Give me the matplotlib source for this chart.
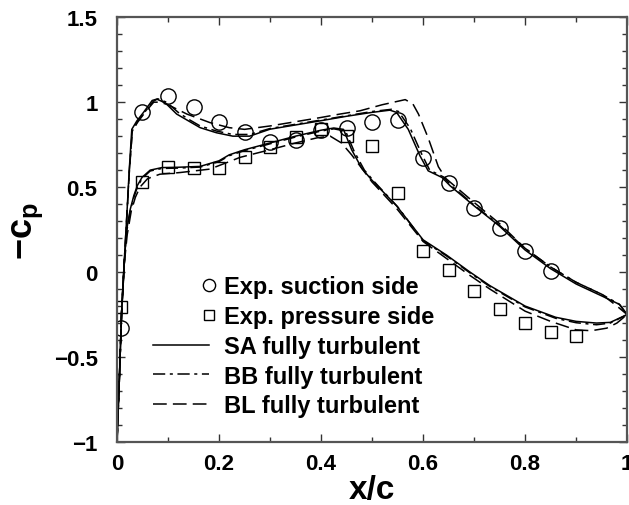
import matplotlib
matplotlib.use("Agg")
import matplotlib.pyplot as plt
from matplotlib.legend_handler import HandlerLine2D
from matplotlib.lines import Line2D
from matplotlib.ticker import MultipleLocator

plt.rcParams["font.family"] = ["Liberation Sans", "DejaVu Sans"]
plt.rcParams["font.weight"] = "bold"
plt.rcParams["mathtext.fontset"] = "custom"
plt.rcParams["mathtext.rm"] = "Liberation Sans:bold"
plt.rcParams["mathtext.bf"] = "Liberation Sans:bold"
plt.rcParams["mathtext.it"] = "Liberation Sans:bold"

#%% Data
# experiments
exp_suc_x = [0.007, 0.05, 0.1, 0.15, 0.2, 0.25, 0.3, 0.35, 0.4, 0.45, 0.5, 0.55,
             0.6, 0.65, 0.7, 0.75, 0.8, 0.85]
exp_suc_y = [-0.33, 0.945, 1.037, 0.969, 0.886, 0.825, 0.763, 0.776, 0.835, 0.847, 0.884, 0.896,
             0.669, 0.522, 0.38, 0.259, 0.122, 0.008]

exp_pre_x = [0.008, 0.05, 0.1, 0.15, 0.2, 0.25, 0.3, 0.35, 0.4, 0.45, 0.5, 0.55,
             0.6, 0.65, 0.7, 0.75, 0.8, 0.85, 0.9]
exp_pre_y = [-0.208, 0.533, 0.616, 0.612, 0.612, 0.68, 0.737, 0.795, 0.841, 0.798, 0.743, 0.463,
             0.125, 0.014, -0.114, -0.218, -0.3, -0.355, -0.378]

# SA
sa_suc_x = [0.0, 0.005, 0.009, 0.014, 0.019, 0.024, 0.029, 0.039, 0.052, 0.069, 0.078, 0.095,
            0.117, 0.14, 0.163, 0.195, 0.227, 0.26, 0.3, 0.35, 0.4, 0.45, 0.5, 0.535, 0.548,
            0.571, 0.594, 0.61, 0.637, 0.653, 0.7, 0.75, 0.8, 0.85, 0.9, 0.95, 0.985, 1.0]
sa_suc_y = [-1.0, -0.6, -0.24, 0.05, 0.32, 0.6, 0.84, 0.89, 0.94, 1.01, 1.018, 0.995,
            0.93, 0.89, 0.85, 0.82, 0.80, 0.80, 0.841, 0.866, 0.891, 0.917, 0.94, 0.953, 0.94,
            0.84, 0.684, 0.596, 0.557, 0.508, 0.39, 0.27, 0.13, 0.02, -0.07, -0.14, -0.19, -0.25]

sa_pre_x = [0.0, 0.005, 0.009, 0.014, 0.019, 0.026, 0.033, 0.04, 0.049, 0.065, 0.088, 0.12,
            0.163, 0.2, 0.22, 0.25, 0.3, 0.35, 0.4, 0.425, 0.444, 0.46, 0.48, 0.5, 0.548,
            0.6, 0.646, 0.692, 0.731, 0.8, 0.86, 0.9, 0.94, 0.967, 1.0]
sa_pre_y = [-1.0, -0.6, -0.24, 0.05, 0.25, 0.37, 0.45, 0.51, 0.557, 0.6, 0.615, 0.617,
            0.622, 0.655, 0.69, 0.72, 0.76, 0.80, 0.835, 0.848, 0.84, 0.72, 0.61, 0.54, 0.39,
            0.19, 0.10, 0.0, -0.08, -0.2, -0.266, -0.29, -0.30, -0.296, -0.25]

# BB
bb_suc_x = [0.0, 0.005, 0.009, 0.014, 0.019, 0.024, 0.03, 0.04, 0.054, 0.071, 0.08, 0.097,
            0.12, 0.14, 0.163, 0.195, 0.227, 0.26, 0.3, 0.35, 0.4, 0.45, 0.5, 0.538, 0.552,
            0.575, 0.598, 0.613, 0.64, 0.655, 0.7, 0.75, 0.8, 0.85, 0.9, 0.95, 0.985, 1.0]
bb_suc_y = [-1.0, -0.6, -0.24, 0.05, 0.32, 0.59, 0.83, 0.885, 0.94, 1.005, 1.02, 1.0,
            0.94, 0.9, 0.86, 0.83, 0.81, 0.81, 0.845, 0.87, 0.895, 0.92, 0.945, 0.958, 0.945,
            0.845, 0.69, 0.6, 0.56, 0.51, 0.395, 0.275, 0.14, 0.03, -0.06, -0.13, -0.19, -0.25]

bb_pre_x = [0.0, 0.005, 0.009, 0.014, 0.019, 0.026, 0.033, 0.04, 0.049, 0.065, 0.088, 0.12,
            0.163, 0.2, 0.22, 0.25, 0.3, 0.35, 0.4, 0.425, 0.448, 0.465, 0.485, 0.505, 0.55,
            0.6, 0.646, 0.692, 0.731, 0.8, 0.86, 0.9, 0.94, 0.967, 1.0]
bb_pre_y = [-1.0, -0.6, -0.24, 0.05, 0.24, 0.36, 0.44, 0.5, 0.55, 0.595, 0.61, 0.612,
            0.618, 0.65, 0.685, 0.715, 0.755, 0.795, 0.83, 0.843, 0.83, 0.71, 0.6, 0.53, 0.385,
            0.185, 0.095, -0.005, -0.085, -0.205, -0.272, -0.298, -0.31, -0.3, -0.25]

# BL
bl_suc_x = [0.0, 0.005, 0.009, 0.014, 0.019, 0.024, 0.03, 0.04, 0.055, 0.072, 0.084, 0.1,
            0.137, 0.182, 0.22, 0.25, 0.3, 0.35, 0.4, 0.437, 0.476, 0.52, 0.565, 0.58, 0.591,
            0.61, 0.63, 0.645, 0.7, 0.75, 0.8, 0.85, 0.9, 0.95, 0.98, 1.0]
bl_suc_y = [-1.0, -0.6, -0.24, 0.02, 0.3, 0.58, 0.83, 0.88, 0.94, 1.0, 1.0, 0.985,
            0.93, 0.88, 0.85, 0.84, 0.86, 0.885, 0.91, 0.93, 0.949, 0.985, 1.015, 0.99, 0.93,
            0.79, 0.62, 0.55, 0.41, 0.285, 0.14, 0.03, -0.06, -0.13, -0.2, -0.25]

bl_pre_x = [0.0, 0.005, 0.009, 0.014, 0.02, 0.028, 0.036, 0.045, 0.06, 0.084, 0.124, 0.182,
            0.22, 0.241, 0.3, 0.35, 0.392, 0.418, 0.44, 0.46, 0.48, 0.5, 0.548, 0.6, 0.646,
            0.692, 0.731, 0.8, 0.85, 0.9, 0.93, 0.96, 0.98, 1.0]
bl_pre_y = [-1.0, -0.6, -0.24, 0.04, 0.22, 0.36, 0.44, 0.5, 0.55, 0.576, 0.586, 0.606,
            0.65, 0.675, 0.72, 0.76, 0.79, 0.80, 0.76, 0.69, 0.61, 0.53, 0.375, 0.18, 0.08,
            -0.02, -0.1, -0.23, -0.29, -0.34, -0.345, -0.33, -0.3, -0.25]


class RightMarkerHandler(HandlerLine2D):
    # put the legend marker at the right end of the handle
    def create_artists(self, legend, orig_handle, xdescent, ydescent, width, height,
                       fontsize, trans):
        artists = super().create_artists(legend, orig_handle, xdescent, ydescent,
                                         width, height, fontsize, trans)
        artists[0].set_markevery([2])
        return artists


#%% Plot
fig = plt.figure(figsize=(6.29, 5.06), dpi=100)
ax = fig.add_axes([0.186, 0.1245, 0.811, 0.8395])

lw = 1.1
ax.plot(exp_suc_x, exp_suc_y, "o", ms=11, mfc="none", mec="black", mew=1.0,
        label="Exp. suction side")
ax.plot(exp_pre_x, exp_pre_y, "s", ms=9, mfc="none", mec="black", mew=1.0,
        label="Exp. pressure side")

ax.plot(sa_suc_x, sa_suc_y, "-", color="black", lw=lw, label="SA fully turbulent")
ax.plot(sa_pre_x, sa_pre_y, "-", color="black", lw=lw)
ax.plot(bb_suc_x, bb_suc_y, color="black", lw=lw, linestyle=(0, (8, 3, 2, 3)),
        label="BB fully turbulent")
ax.plot(bb_pre_x, bb_pre_y, color="black", lw=lw, linestyle=(0, (8, 3, 2, 3)))
ax.plot(bl_suc_x, bl_suc_y, color="black", lw=lw, linestyle=(0, (9, 4)),
        label="BL fully turbulent")
ax.plot(bl_pre_x, bl_pre_y, color="black", lw=lw, linestyle=(0, (9, 4)))

ax.set_xlim(0, 1)
ax.set_ylim(-1, 1.5)
ax.xaxis.set_minor_locator(MultipleLocator(0.1))
ax.yaxis.set_minor_locator(MultipleLocator(0.1))
ax.set_xticks([0, 0.2, 0.4, 0.6, 0.8, 1.0])
ax.set_xticklabels(["0", "0.2", "0.4", "0.6", "0.8", "1"])
ax.set_yticks([-1, -0.5, 0, 0.5, 1, 1.5])
ax.set_yticklabels(["\u22121", "\u22120.5", "0", "0.5", "1", "1.5"])
ax.tick_params(which="both", direction="in", top=True, right=True, width=1.0,
               labelsize=16, color="#333333")
ax.tick_params(which="major", length=6, pad=8)
ax.tick_params(which="minor", length=3.5)
ax.tick_params(axis="y", which="major", pad=14)
for sp in ax.spines.values():
    sp.set_linewidth(1.6)
    sp.set_color("#555555")
for lab in ax.get_xticklabels() + ax.get_yticklabels():
    lab.set_fontweight("bold")

ax.set_xlabel("x/c", fontsize=24, fontweight="bold", labelpad=0)
ax.set_ylabel(r"$\mathbf{-c_p}$", fontsize=26, labelpad=6)

leg = ax.legend(loc="upper left", bbox_to_anchor=(0.07, 0.392), frameon=False,
                prop={"size": 17, "weight": "bold"}, handlelength=2.4,
                handletextpad=0.64, labelspacing=0.285, borderpad=0, borderaxespad=0,
                markerscale=0.8, numpoints=1,
                handler_map={Line2D: RightMarkerHandler()})

fig.savefig("out.png", dpi=100)
